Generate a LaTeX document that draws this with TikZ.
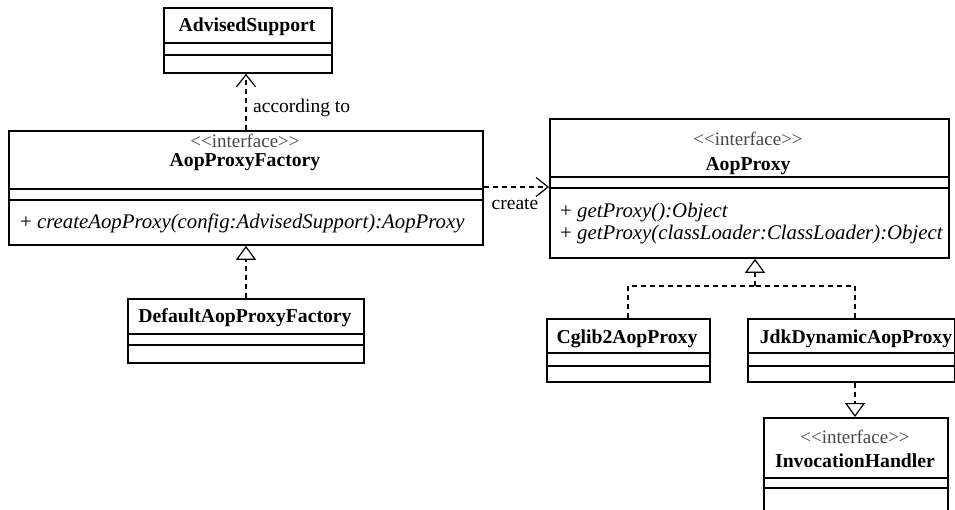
\documentclass[tikz,border=0pt]{standalone}
\usepackage{fontspec}
\setmainfont{Liberation Serif}
\usetikzlibrary{arrows.meta}
\newcommand{\stereotype}[1]{{<}{<}#1{>}{>}}
\tikzset{
  classbox/.style={draw, line width=1.8pt, fill=white, anchor=north west, inner sep=0pt},
  sep/.style={line width=1.3pt},
  txt/.style={inner sep=0pt, anchor=base},
  stereo/.style={txt, font=\fontsize{19}{21}\selectfont, text=black!72},
  cname/.style={txt, font=\fontsize{19.7}{21}\selectfont\bfseries},
  op/.style={inner sep=0pt, anchor=base west, font=\fontsize{20.8}{22}\selectfont\itshape},
  lbl/.style={txt, font=\fontsize{19.5}{21}\selectfont},
  dashline/.style={line width=1.2pt, dash pattern=on 5pt off 4pt},
  dep/.style={dashline, -{Straight Barb[length=12pt,width=19pt,line width=1.2pt]}},
  real/.style={dashline, -{Triangle[open,length=14pt,width=20pt,line width=1.2pt,fill=white]}}
}
\begin{document}
\begin{tikzpicture}[x=1pt,y=-1pt]
\useasboundingbox (0,0) rectangle (955,510);
\clip (0,0) rectangle (955,510);
\fill[white] (0,0) rectangle (955,510);

% AdvisedSupport
\node[classbox, minimum width=168pt, minimum height=65pt] (as) at (163,7) {};
\node[cname] (asn) at (247,32) {AdvisedSupport};
\draw[sep] (as.west |- 0,43) -- (as.east |- 0,43);
\draw[sep] (as.west |- 0,55) -- (as.east |- 0,55);

% AopProxyFactory
\node[classbox, minimum width=474pt, minimum height=114pt] (apf) at (8,130) {};
\node[stereo] (apfs) at (245,148) {\stereotype{interface}};
\node[cname] (apfn) at (245,167) {AopProxyFactory};
\draw[sep] (apf.west |- 0,189) -- (apf.east |- 0,189);
\draw[sep] (apf.west |- 0,200) -- (apf.east |- 0,200);
\node[op] (apfm) at (20,229) {{\upshape+} createAopProxy(config:AdvisedSupport):AopProxy};

% AopProxy
\node[classbox, minimum width=399pt, minimum height=139pt] (ap) at (549,118) {};
\node[stereo] (aps) at (748,146) {\stereotype{interface}};
\node[cname] (apn) at (748,171) {AopProxy};
\draw[sep] (ap.west |- 0,177) -- (ap.east |- 0,177);
\draw[sep] (ap.west |- 0,188) -- (ap.east |- 0,188);
\node[op] (apm1) at (560,218) {{\upshape+} getProxy():Object};
\node[op] (apm2) at (560,240) {{\upshape+} getProxy(classLoader:ClassLoader):Object};

% DefaultAopProxyFactory
\node[classbox, minimum width=236pt, minimum height=64pt] (dapf) at (127,298) {};
\node[cname] (dapfn) at (245,323) {DefaultAopProxyFactory};
\draw[sep] (dapf.west |- 0,334) -- (dapf.east |- 0,334);
\draw[sep] (dapf.west |- 0,345) -- (dapf.east |- 0,345);

% Cglib2AopProxy
\node[classbox, minimum width=163pt, minimum height=63pt] (cg) at (546,318) {};
\node[cname] (cgn) at (627,343) {Cglib2AopProxy};
\draw[sep] (cg.west |- 0,353) -- (cg.east |- 0,353);
\draw[sep] (cg.west |- 0,366) -- (cg.east |- 0,366);

% JdkDynamicAopProxy
\node[classbox, minimum width=207pt, minimum height=63pt] (jdk) at (747,318) {};
\node[cname] (jdkn) at (856,343) {JdkDynamicAopProxy};
\draw[sep] (jdk.west |- 0,353) -- (jdk.east |- 0,353);
\draw[sep] (jdk.west |- 0,366) -- (jdk.east |- 0,366);

% InvocationHandler
\node[classbox, minimum width=184pt, minimum height=110pt] (ih) at (763,417) {};
\node[stereo] (ihs) at (855,443) {\stereotype{interface}};
\node[cname] (ihn) at (855,467) {InvocationHandler};
\draw[sep] (ih.west |- 0,478) -- (ih.east |- 0,478);
\draw[sep] (ih.west |- 0,488) -- (ih.east |- 0,488);

% connectors
\draw[dep] (apf.north -| 246,0) -- (as.south -| 246,0);
\node[lbl, anchor=base west] (acc) at (253,113) {according to};
\draw[dep] (apf.east |- 0,187) -- (ap.west |- 0,187);
\node[lbl] (crt) at (515,210) {create};
\draw[real] (dapf.north -| 246,0) -- (apf.south -| 246,0);
\coordinate (fork) at (755,286);
\draw[dashline] (cg.north -| 628,0) -- (628,286) -- (fork);
\draw[dashline] (jdk.north -| 855,0) -- (855,286) -- (fork);
\draw[real] (fork) -- (ap.south -| 755,0);
\draw[real] (jdk.south -| 855,0) -- (ih.north -| 855,0);
\end{tikzpicture}
\end{document}
